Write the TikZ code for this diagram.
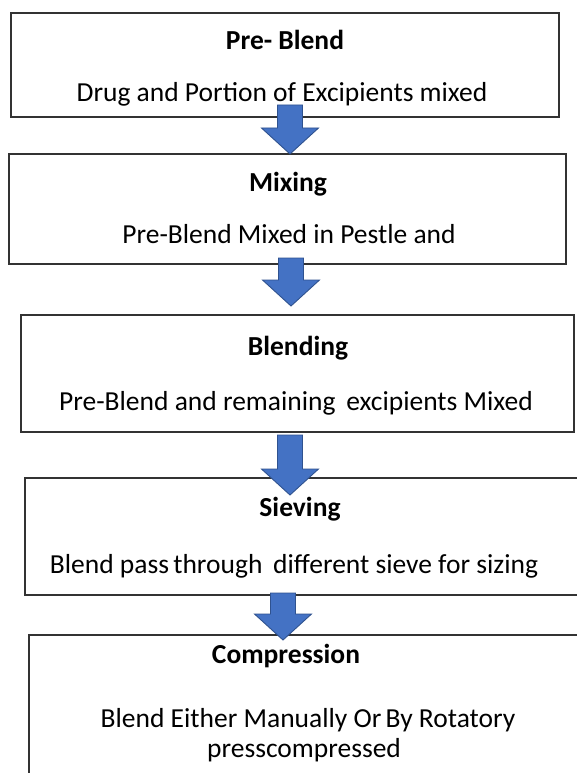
\documentclass[tikz,border=0pt]{standalone}
\usepackage{fontspec}
\setmainfont{Carlito}
\usetikzlibrary{calc}
\definecolor{arrowblue}{HTML}{4472C4}
\definecolor{arrowedge}{HTML}{2F528F}
\newcommand\blkarrow[2]{%
  \draw[blockarrow] ($(#1)+(-12.5,0)$) -- ($(#1)+(12.5,0)$) -- ($(#2)+(12.5,-26)$) -- ($(#2)+(28.5,-26)$) -- (#2) -- ($(#2)+(-28.5,-26)$) -- ($(#2)+(-12.5,-26)$) -- cycle;}
\begin{document}
\begin{tikzpicture}[x=1pt,y=-1pt,
  box/.style={draw=black!80, line width=1.3pt, fill=white, inner sep=0pt, outer sep=0pt},
  title/.style={anchor=base, font=\fontsize{27.5}{33}\selectfont\bfseries, inner sep=0pt},
  body/.style={anchor=base, font=\fontsize{27.5}{33}\selectfont, inner sep=0pt},
  blockarrow/.style={fill=arrowblue, draw=arrowedge, line width=0.9pt, line join=miter}]
\useasboundingbox (0,0) rectangle (577,773);
\clip (0,0) rectangle (577,773);
\fill[white] (0,0) rectangle (577,773);
% boxes
\node[box, minimum width=548pt, minimum height=104pt] (b1) at (285,65) {};
\node[box, minimum width=557pt, minimum height=110pt] (b2) at (287.5,209) {};
\node[box, minimum width=553pt, minimum height=117pt] (b3) at (297.5,373.5) {};
\node[box, minimum width=557pt, minimum height=117pt] (b4) at (303.5,536.5) {};
\node[box, minimum width=561pt, minimum height=165pt] (b5) at (309.5,717.5) {};
% texts
\node[title] (t1) at (285,50) {Pre- Blend};
\node[body] (d1) at (282,102) {Drug and Portion of Excipients mixed};
\node[title] (t2) at (288,191) {Mixing};
\node[body] (d2) at (289,243) {Pre-Blend Mixed in Pestle and};
\node[title] (t3) at (298,355) {Blending};
\node[body] (d3) at (296,410) {Pre-Blend and remaining\, excipients Mixed};
\node[title] (t4) at (300,516) {Sieving};
\node[body] (d4) at (294,573) {Blend pass\hspace{-2pt} through\, different sieve for sizing};
\node[title] (t5) at (286,663) {Compression};
\node[body] (d5a) at (308,727) {Blend Either Manually Or\hspace{-2pt} By Rotatory};
\node[body] (d5b) at (304,757) {presscompressed};
% arrows
\coordinate (a1s) at (290,105); \coordinate (a1t) at (290,154);
\coordinate (a2s) at (291,258); \coordinate (a2t) at (291,306);
\coordinate (a3s) at (290,435); \coordinate (a3t) at (290,495);
\coordinate (a4s) at (283,593); \coordinate (a4t) at (283,640);
\blkarrow{a1s}{a1t}
\blkarrow{a2s}{a2t}
\blkarrow{a3s}{a3t}
\blkarrow{a4s}{a4t}
\end{tikzpicture}
\end{document}
